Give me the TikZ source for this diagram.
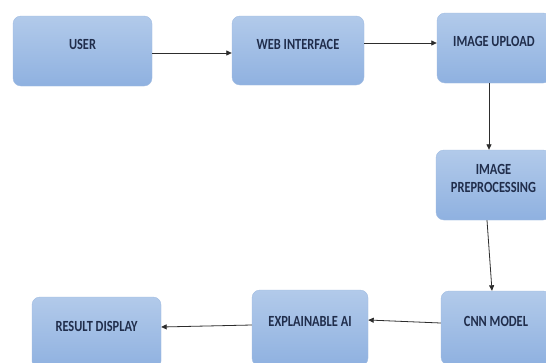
\documentclass[tikz,border=0pt]{standalone}
\usepackage{fontspec}
\newfontfamily\boxfont{Carlito}[FakeStretch=0.8]
\usetikzlibrary{arrows.meta,calc}
\definecolor{boxtop}{RGB}{178,202,234}
\definecolor{boxbot}{RGB}{143,177,224}
\definecolor{boxline}{RGB}{160,188,226}
\definecolor{txt}{RGB}{32,45,75}
\definecolor{arr}{RGB}{45,45,45}
\begin{document}
\begin{tikzpicture}[x=1pt,y=-1pt,
  box/.style={rectangle, rounded corners=8pt, top color=boxtop, bottom color=boxbot,
    draw=boxline, line width=0.4pt, inner sep=0pt, text=txt, text depth=12.5pt,
    font=\boxfont\bfseries\fontsize{15.5pt}{18pt}\selectfont, align=center},
  link/.style={draw=arr, line width=0.8pt, -{Triangle[length=5.5pt,width=5pt]}}]
\useasboundingbox (0,0) rectangle (546,362);
\clip (0,0) rectangle (546,362);
\fill[white] (0,0) rectangle (546,362);
\node[box, minimum width=139pt, minimum height=70pt] (user) at (82.5,51) {USER};
\node[box, minimum width=132pt, minimum height=69pt] (web) at (298,50.5) {WEB INTERFACE};
\node[box, minimum width=114pt, minimum height=70pt] (upload) at (494,48) {IMAGE UPLOAD};
\node[box, minimum width=115pt, minimum height=70pt] (pre) at (493.5,185) {IMAGE\\PREPROCESSING};
\node[box, minimum width=110pt, minimum height=74pt] (cnn) at (496,328) {CNN MODEL};
\node[box, minimum width=116pt, minimum height=76pt] (xai) at (310,328) {EXPLAINABLE AI};
\node[box, minimum width=129pt, minimum height=72pt] (res) at (96.5,333) {RESULT DISPLAY};
\coordinate (a1) at ([yshift=-2pt]user.east);
\coordinate (a2) at ([yshift=7.5pt]web.east);
\coordinate (a3) at ([xshift=-5pt]upload.south);
\coordinate (a4s) at ([xshift=-6.5pt]pre.south);
\coordinate (a4e) at ([xshift=-4pt]cnn.north);
\coordinate (a5s) at ([yshift=5pt]cnn.west);
\coordinate (a5e) at ([yshift=8pt]xai.east);
\coordinate (a6s) at ([yshift=3pt]xai.west);
\coordinate (a6e) at ([yshift=6pt]res.east);
\draw[link] (a1) -- (a1 -| web.west);
\draw[link] (a2) -- (a2 -| upload.west);
\draw[link] (a3) -- (a3 |- pre.north);
\draw[link] (a4s) -- (a4e);
\draw[link] (a5s) -- (a5e);
\draw[link] (a6s) -- (a6e);
\end{tikzpicture}
\end{document}
